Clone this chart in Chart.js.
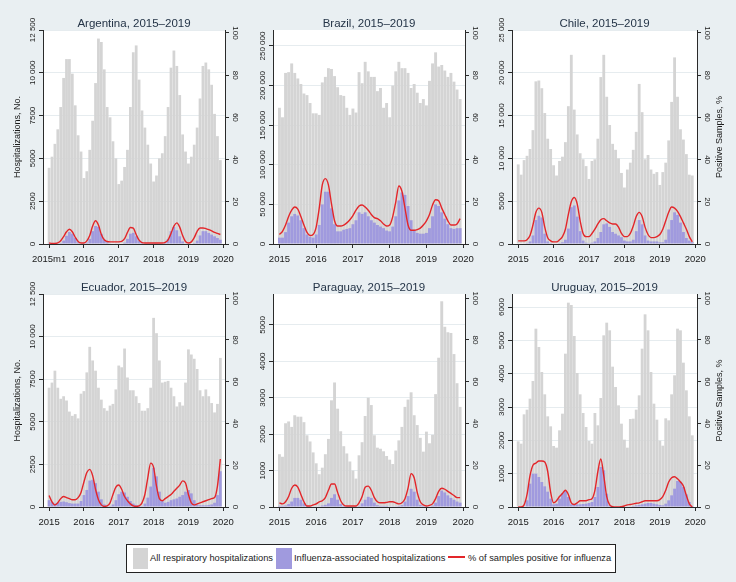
<!DOCTYPE html>
<html lang="en">
<head>
<meta charset="UTF-8">
<title>Respiratory and influenza-associated hospitalizations, 2015–2019</title>
<script src="https://cdn.jsdelivr.net/npm/chart.js"></script>
<style>
  body {
    margin: 0;
    width: 736px;
    height: 582px;
    background: #e9eff2;
    position: relative;
    overflow: hidden;
    font-family: "Liberation Sans", Arial, sans-serif;
    color: #222;
  }
  canvas { position: absolute; }
  #legend {
    position: absolute;
    left: 126px;
    top: 544px;
    width: 488px;
    height: 27px;
    background: #fff;
    border: 1px solid #222;
  }
  #legend .sw { position: absolute; top: 3px; width: 15px; height: 21px; }
  #legend .tx { position: absolute; top: 0; line-height: 27px; font-size: 9.3px; white-space: nowrap; }
  #legend .ln { position: absolute; top: 11px; width: 17px; height: 2px; background: #e3262a; }
</style>
</head>
<body>

<div id="legend">
  <div class="sw" style="left:6px;background:#d4d4d4"></div>
  <div class="tx" style="left:23px">All respiratory hospitalizations</div>
  <div class="sw" style="left:149px;width:16px;background:#a09ade"></div>
  <div class="tx" style="left:167px">Influenza-associated hospitalizations</div>
  <div class="ln" style="left:321px"></div>
  <div class="tx" style="left:341px">% of samples positive for influenza</div>
</div>

<script>
// months 2015m1 .. 2019m12
const years = ['2015', '2016', '2017', '2018', '2019'];
const monthNums = [1, 2, 3, 4, 5, 6, 7, 8, 9, 10, 11, 12];
const months = [];
years.forEach(y => monthNums.forEach(m => months.push(y + 'm' + m)));

const yearTickPos = [0, 12, 24, 36, 48, 60];
const yearLabels = ['2015', '2016', '2017', '2018', '2019', '2020'];
const argYearLabels = ['2015m1', '2016', '2017', '2018', '2019', '2020'];
const posTicks = [0, 20, 40, 60, 80, 100];

// Argentina
const argTicks = [0, 2500, 5000, 7500, 10000, 12500];
const argAll = [4450, 5100, 5850, 6700, 8000, 9700, 10800, 10800, 9950, 8100, 6350, 5400,
  3850, 4250, 5500, 7200, 9400, 12000, 11800, 10200, 8000, 7400, 6000, 5000,
  3500, 3700, 4500, 5500, 8000, 11200, 11600, 9600, 7800, 6800, 5800, 4700,
  3650, 4000, 5000, 5300, 6300, 8000, 10300, 11300, 10400, 8700, 6400, 5400,
  4700, 5100, 5800, 6800, 8500, 10400, 10600, 10200, 9300, 7600, 6300, 4900];
const argFlu = [10, 10, 10, 20, 60, 200, 480, 700, 600, 350, 100, 30,
  20, 80, 300, 750, 1050, 1000, 600, 250, 100, 40, 30, 20,
  20, 30, 80, 300, 600, 650, 450, 200, 60, 30, 20, 20,
  10, 10, 20, 30, 80, 300, 750, 1000, 800, 450, 150, 40,
  20, 30, 60, 200, 500, 750, 750, 650, 550, 450, 350, 250];
const argPos = [0.5, 0.3, 0.3, 0.5, 1.5, 3.5, 5.8, 7, 5.8, 3.2, 1.2, 0.5,
  0.5, 1.5, 4, 8.5, 11, 9, 4.5, 2, 1.2, 1, 1, 1,
  1, 1.2, 2.5, 5.5, 7.8, 7.5, 4.5, 1.8, 0.7, 0.5, 0.5, 0.5,
  0.5, 0.5, 0.5, 0.5, 0.8, 2, 5, 8.5, 10, 8, 4, 1.2,
  0.5, 1, 3, 6, 7.6, 7.6, 7.3, 6.8, 6.2, 5.5, 5, 4.5];

// Brazil
const braTicks = [0, 50000, 100000, 150000, 200000, 250000];
const braAll = [172000, 160000, 216000, 217000, 228000, 216000, 209000, 202000, 190000, 188000, 178000, 165000,
  165000, 163000, 204000, 211000, 222000, 221000, 212000, 198000, 188000, 187000, 172000, 163000,
  171000, 166000, 217000, 203000, 230000, 218000, 211000, 211000, 193000, 197000, 172000, 178000,
  160000, 200000, 218000, 230000, 222000, 222000, 216000, 197000, 202000, 191000, 178000, 183000,
  175000, 206000, 228000, 242000, 224000, 226000, 219000, 211000, 216000, 205000, 195000, 183000];
const braFlu = [8000, 8000, 15000, 27000, 35000, 38000, 36000, 30000, 20000, 12000, 9000, 8000,
  12000, 24000, 50000, 66000, 66000, 45000, 25000, 16000, 16000, 18000, 19000, 20000,
  25000, 30000, 40000, 38000, 40000, 35000, 30000, 27000, 24000, 22000, 20000, 17000,
  16000, 22000, 35000, 55000, 65000, 62000, 48000, 30000, 18000, 14000, 13000, 13000,
  14000, 20000, 35000, 50000, 48000, 40000, 32000, 25000, 20000, 19000, 20000, 20000];
const braPos = [4.5, 6, 9, 13, 16, 17.5, 16.5, 13, 9, 5.5, 4, 4.5,
  8, 17, 28, 31, 28, 19, 11, 8.5, 8.5, 9, 10, 11.5,
  13.5, 16, 18, 18.5, 17.5, 16, 14, 12.5, 12, 11, 9.5, 8.5,
  9, 13, 20, 27.5, 25, 17, 9, 6.5, 6.5, 6.8, 7.5, 9,
  11, 14, 18.5, 21, 20.5, 17, 14, 11, 9, 9, 9.5, 12];

// Chile
const chiTicks = [0, 5000, 10000, 15000, 20000, 25000];
const chiAll = [9300, 8100, 9800, 10300, 11100, 13300, 19000, 19100, 18200, 15300, 12300, 11100,
  9200, 8000, 9700, 10200, 11900, 16100, 22100, 15700, 12800, 10600, 9900, 9100,
  7600, 9700, 9900, 12300, 19500, 22100, 17200, 13900, 11700, 11000, 10000, 8300,
  6600, 8700, 9500, 11000, 13100, 18700, 15400, 9900, 10400, 8700, 8200, 8400,
  6900, 8400, 9500, 12100, 16600, 21800, 17200, 13400, 12200, 10500, 8100, 8000];
const chiFlu = [0, 0, 50, 100, 300, 1000, 2800, 3300, 3100, 1200, 300, 100,
  50, 50, 100, 200, 500, 1800, 4300, 4500, 3200, 1500, 400, 150,
  100, 150, 300, 700, 1400, 2300, 2400, 2000, 1400, 1200, 1000, 800,
  400, 300, 300, 500, 1500, 2800, 2300, 1000, 400, 300, 300, 300,
  200, 200, 500, 1700, 2800, 3700, 3400, 2500, 1400, 700, 400, 200];
const chiPos = [1.5, 1.5, 1.5, 2, 4, 9, 15, 17, 15, 8, 3, 1.5,
  1, 1, 2, 3.5, 7, 14, 20, 22, 19, 11, 5, 3.5,
  3.5, 5, 7, 9.5, 11.5, 12, 11, 10, 9.5, 9.5, 8, 5,
  3.5, 3.5, 5, 8.5, 13, 15, 13, 8, 4.5, 3, 3, 3.5,
  4.5, 7, 11, 15, 17.5, 17, 15.5, 13, 10, 7, 3.5, 1];

// Ecuador
const ecuTicks = [0, 2500, 5000, 7500, 10000, 12500];
const ecuAll = [7000, 7300, 8000, 7000, 6350, 6500, 6250, 5600, 5350, 5450, 5200, 6650,
  6800, 7900, 9400, 8600, 8000, 7000, 6300, 5800, 5650, 5950, 6050, 6900,
  8300, 8200, 9300, 7600, 6850, 6850, 6500, 6100, 5650, 5650, 5800, 7000,
  11100, 10200, 8600, 7300, 7350, 7400, 7000, 6500, 5900, 6150, 5950, 7300,
  9250, 8950, 8700, 8100, 6850, 6500, 6900, 6500, 6100, 5550, 6050, 8750];
const ecuFlu = [400, 300, 200, 250, 300, 320, 280, 230, 200, 200, 200, 350,
  700, 1000, 1550, 1600, 1400, 900, 450, 150, 50, 50, 150, 400,
  750, 900, 850, 600, 350, 200, 120, 80, 50, 200, 550, 1200,
  2300, 1800, 900, 350, 250, 300, 400, 450, 500, 600, 700, 900,
  1000, 800, 400, 150, 100, 100, 100, 120, 150, 250, 700, 2100];
const ecuPos = [5.5, 2.5, 1, 2, 4, 5, 4.5, 4, 3.5, 3.5, 4.5, 7,
  12, 16.5, 18, 15, 8.5, 3.5, 1, 0.3, 0.5, 2, 6, 9.5,
  10.5, 8.5, 5, 3, 1.5, 0.5, 0.3, 0.5, 2, 6, 14, 21,
  19, 10, 4, 3, 4, 5, 6, 7.5, 9, 10.5, 12.5, 11.5,
  6, 2, 1, 1.5, 2, 2.5, 3, 3.5, 4, 4.5, 10, 23];

// Paraguay
const parTicks = [0, 1000, 2000, 3000, 4000, 5000];
const parAll = [1450, 1380, 2300, 2350, 2200, 2520, 2480, 2480, 2330, 1970, 1800, 1500,
  1200, 900, 1080, 1450, 1870, 2930, 3420, 2700, 2080, 1670, 1470, 1250,
  1000, 780, 1420, 1780, 2500, 3000, 2800, 1970, 1630, 1600, 1530, 1400,
  1300, 1180, 1550, 1830, 2200, 2750, 2950, 3150, 2520, 2250, 1900, 1520,
  2070, 1750, 1980, 3100, 4100, 5650, 4950, 4800, 4780, 4200, 3400, 2750];
const parFlu = [30, 30, 40, 80, 150, 250, 250, 200, 100, 40, 20, 10,
  10, 20, 40, 60, 100, 250, 350, 200, 80, 30, 20, 20,
  10, 10, 30, 100, 200, 280, 250, 120, 50, 30, 30, 30,
  20, 20, 20, 30, 50, 150, 300, 500, 420, 200, 60, 30,
  20, 20, 40, 120, 300, 450, 400, 320, 250, 200, 150, 120];
const parPos = [2, 1.5, 2.5, 5, 9, 10.5, 9.5, 6, 2.5, 0.5, 0.5, 1,
  1.5, 2.5, 3, 4.5, 8, 11, 11, 7, 3, 1, 0.5, 0.5,
  0.5, 0.5, 2, 5, 9.5, 10, 8, 4.5, 2.5, 2, 2, 2.2,
  2.5, 2.5, 2, 1.5, 2, 4, 9, 16, 14, 7, 2.5, 1,
  0.5, 0.8, 1.5, 4, 7.5, 9, 8.5, 7.5, 6.5, 5.5, 4.5, 4.5];

// Uruguay
const uruTicks = [0, 1000, 2000, 3000, 4000, 5000, 6000];
const uruAll = [1970, 1900, 2780, 2920, 3250, 3780, 5350, 4800, 4050, 3380, 2720, 2420,
  1830, 1780, 2300, 2800, 4600, 6130, 6060, 5130, 4020, 3380, 2820, 2400,
  1980, 1900, 2820, 2450, 3270, 5150, 5530, 5300, 4210, 3600, 3050, 2500,
  2020, 1780, 2640, 2650, 2920, 3350, 4750, 5780, 5300, 4050, 3100, 2620,
  1990, 1840, 2660, 2600, 3380, 3950, 5350, 5300, 4330, 3500, 2720, 2150];
const uruFlu = [0, 0, 20, 200, 700, 1000, 1000, 900, 750, 620, 460, 250,
  80, 100, 250, 420, 480, 300, 80, 60, 80, 80, 90, 100,
  120, 150, 300, 600, 1200, 1100, 400, 50, 10, 0, 0, 0,
  0, 10, 20, 30, 50, 60, 80, 100, 120, 120, 100, 80,
  60, 50, 100, 200, 350, 550, 780, 760, 600, 380, 150, 30];
const uruPos = [0, 0, 1, 6, 15, 20, 21, 22, 22, 21.5, 17, 7,
  2, 3, 5, 6.5, 8, 6, 2, 1.2, 2, 3, 3, 3,
  3.5, 4, 8, 17, 23, 15, 5, 1, 0.2, 0, 0, 0.2,
  0.5, 1, 1.2, 1.5, 1.8, 2, 2.5, 3, 3, 3, 3, 3,
  3.5, 5, 8, 12, 14, 14.5, 13.5, 12, 10, 5.5, 1.5, 0];

const GRAY = '#d4d4d4';
const PURPLE = '#a09ade';
const RED = '#e3262a';
const AXIS = '#2a2a2a';
const GRID = '#e6ecef';
const FONT = '"Liberation Sans", Arial, sans-serif';

const panels = [
  { title: 'Argentina, 2015–2019', all: argAll, flu: argFlu, pos: argPos, yTicks: argTicks, yMax: 12500, posMax: 101.4,
    xLabels: argYearLabels, left: 0, top: 0, w: 245, lw: 43, rw: 20, pad: 30, titleY: 24, leftTitle: 'Hospitalizations, No.' },
  { title: 'Brazil, 2015–2019', all: braAll, flu: braFlu, pos: braPos, yTicks: braTicks, yMax: 270200, posMax: 101.4,
    xLabels: yearLabels, left: 245, top: 0, w: 245, lw: 28, rw: 25, pad: 30, titleY: 24 },
  { title: 'Chile, 2015–2019', all: chiAll, flu: chiFlu, pos: chiPos, yTicks: chiTicks, yMax: 25000, posMax: 101.4,
    xLabels: yearLabels, left: 490, top: 0, w: 246, lw: 22, rw: 39, pad: 30, titleY: 24, rightTitle: 'Positive Samples, %' },
  { title: 'Ecuador, 2015–2019', all: ecuAll, flu: ecuFlu, pos: ecuPos, yTicks: ecuTicks, yMax: 12500, posMax: 102,
    xLabels: yearLabels, left: 0, top: 263, w: 245, lw: 43, rw: 20, pad: 31, titleY: 25, leftTitle: 'Hospitalizations, No.' },
  { title: 'Paraguay, 2015–2019', all: parAll, flu: parFlu, pos: parPos, yTicks: parTicks, yMax: 5850, posMax: 102,
    xLabels: yearLabels, left: 245, top: 263, w: 245, lw: 28, rw: 25, pad: 31, titleY: 25 },
  { title: 'Uruguay, 2015–2019', all: uruAll, flu: uruFlu, pos: uruPos, yTicks: uruTicks, yMax: 6390, posMax: 102,
    xLabels: yearLabels, left: 490, top: 263, w: 246, lw: 22, rw: 39, pad: 31, titleY: 25, rightTitle: 'Positive Samples, %' }
];

function fmt(v) {
  const s = String(v);
  return v >= 10000 ? s.replace(/\B(?=(\d{3})+(?!\d))/g, ' ') : s;
}

function toXY(vals) {
  return vals.map((v, i) => ({ x: i, y: v }));
}

function vtext(ctx, s, x, y, dir) {
  ctx.save();
  ctx.translate(x, y);
  ctx.rotate(dir * Math.PI / 2);
  ctx.fillText(s, 0, 0);
  ctx.restore();
}

function textPlugin(p) {
  return {
    id: 'panelText',
    beforeDraw(chart) {
      const { ctx, chartArea: a } = chart;
      ctx.save();
      ctx.fillStyle = '#fff';
      ctx.fillRect(a.left, a.top, a.right - a.left, a.bottom - a.top);
      ctx.restore();
    },
    afterDraw(chart) {
      const { ctx, chartArea: a, scales } = chart;
      ctx.save();
      ctx.textAlign = 'center';
      ctx.textBaseline = 'middle';
      ctx.fillStyle = '#243447';
      ctx.font = '11.5px ' + FONT;
      ctx.fillText(p.title, (a.left + a.right) / 2, p.titleY);

      ctx.fillStyle = '#1a1a1a';
      ctx.font = '9.5px ' + FONT;
      scales.x.ticks.forEach((t, i) => {
        ctx.fillText(p.xLabels[i], scales.x.getPixelForValue(t.value), a.bottom + 15.5);
      });

      ctx.font = '8px ' + FONT;
      scales.y.ticks.forEach(t => vtext(ctx, fmt(t.value), a.left - 10, scales.y.getPixelForValue(t.value), -1));
      scales.y1.ticks.forEach(t => vtext(ctx, String(t.value), a.right + 10, scales.y1.getPixelForValue(t.value), 1));

      ctx.font = '9px ' + FONT;
      const midY = (a.top + a.bottom) / 2;
      if (p.leftTitle) vtext(ctx, p.leftTitle, 18, midY, -1);
      if (p.rightTitle) vtext(ctx, p.rightTitle, a.right + 22.5, midY, -1);
      ctx.restore();
    }
  };
}

panels.forEach(p => {
  const cv = document.createElement('canvas');
  cv.width = p.w;
  cv.height = 270;
  cv.style.left = p.left + 'px';
  cv.style.top = p.top + 'px';
  document.body.appendChild(cv);

  new Chart(cv, {
    type: 'bar',
    data: {
      datasets: [
        { type: 'line', data: toXY(p.pos), yAxisID: 'y1', borderColor: RED, borderWidth: 1.4,
          pointRadius: 0, cubicInterpolationMode: 'monotone', order: 0 },
        { data: toXY(p.flu), yAxisID: 'y', backgroundColor: PURPLE, grouped: false,
          barPercentage: 0.95, categoryPercentage: 1, order: 1 },
        { data: toXY(p.all), yAxisID: 'y', backgroundColor: GRAY, grouped: false,
          barPercentage: 0.95, categoryPercentage: 1, order: 2 }
      ]
    },
    options: {
      responsive: false,
      animation: false,
      events: [],
      layout: { padding: { top: p.pad, left: 0, right: 0, bottom: 0 } },
      plugins: { legend: { display: false }, tooltip: { enabled: false } },
      scales: {
        x: {
          type: 'linear', min: -2.1, max: 60.6, offset: false, z: 1,
          afterBuildTicks: s => { s.ticks = yearTickPos.map(v => ({ value: v })); },
          afterFit: s => { s.height = 26; },
          grid: { drawOnChartArea: false, offset: false, tickLength: 4, tickColor: AXIS },
          border: { color: AXIS, width: 1 },
          ticks: { display: false }
        },
        y: {
          position: 'left', min: 0, max: p.yMax,
          afterBuildTicks: s => { s.ticks = p.yTicks.map(v => ({ value: v })); },
          afterFit: s => { s.width = p.lw; },
          grid: { color: GRID, tickColor: AXIS, tickLength: 4 },
          border: { color: AXIS, width: 1 },
          ticks: { display: false }
        },
        y1: {
          position: 'right', min: 0, max: p.posMax,
          afterBuildTicks: s => { s.ticks = posTicks.map(v => ({ value: v })); },
          afterFit: s => { s.width = p.rw; },
          grid: { drawOnChartArea: false, tickColor: AXIS, tickLength: 4 },
          border: { color: AXIS, width: 1 },
          ticks: { display: false }
        }
      }
    },
    plugins: [textPlugin(p)]
  });
});
</script>
</body>
</html>
